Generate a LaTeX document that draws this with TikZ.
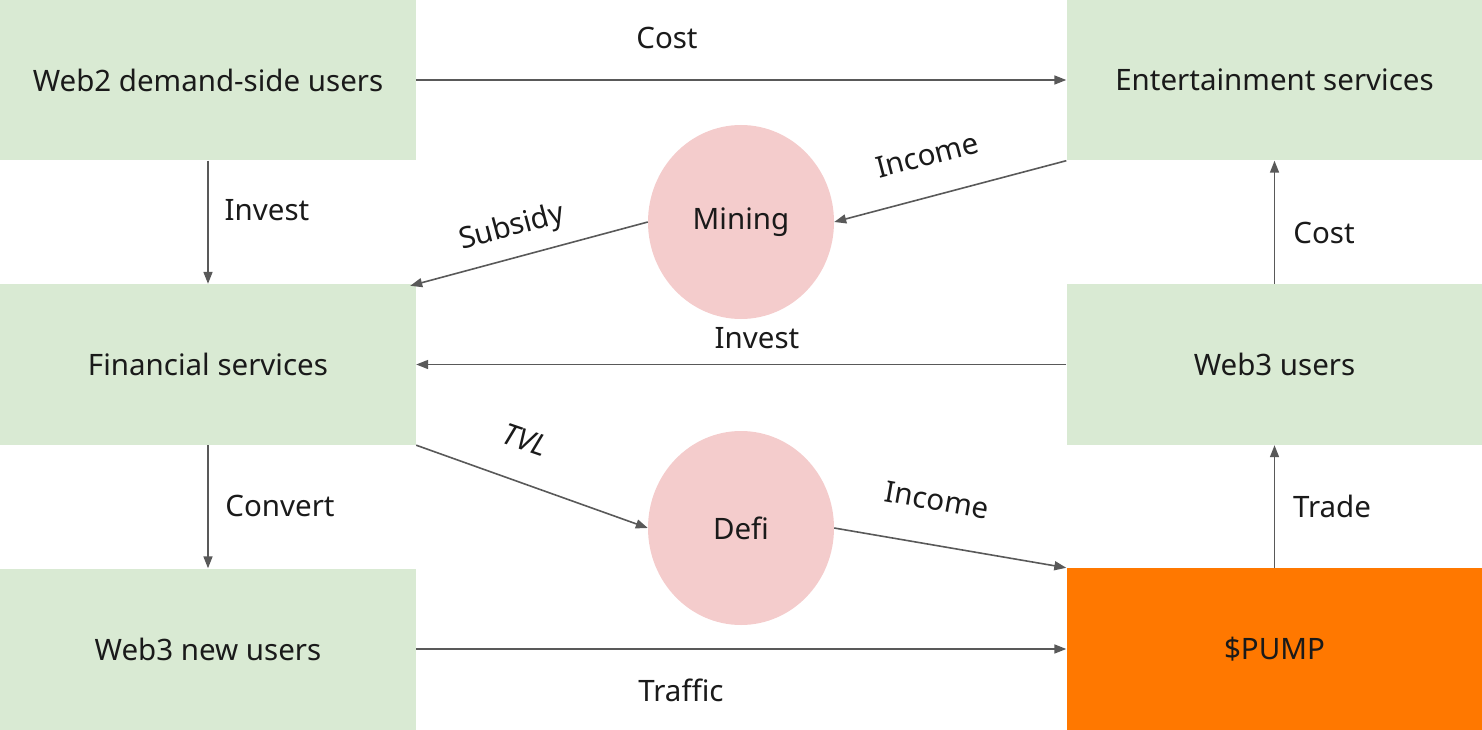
\documentclass[tikz,border=0pt]{standalone}
\usepackage{fontspec}
\setmainfont{Noto Sans}
\usetikzlibrary{shapes.geometric,arrows.meta}
\definecolor{boxgreen}{HTML}{D9EAD3}
\definecolor{circpink}{HTML}{F4CCCC}
\definecolor{pumporange}{HTML}{FF7800}
\definecolor{arrgray}{HTML}{595959}
\definecolor{txt}{HTML}{1A1A1A}
\begin{document}
\begin{tikzpicture}[x=1pt,y=-1pt,
  every node/.style={text=txt,font=\fontsize{29.5}{34}\selectfont},
  greenbox/.style={rectangle,fill=boxgreen,minimum width=416pt,minimum height=161pt,inner sep=0pt},
  pumpbox/.style={rectangle,fill=pumporange,minimum width=416pt,minimum height=162pt,inner sep=0pt},
  circ/.style={ellipse,fill=circpink,minimum width=186pt,minimum height=194pt,inner sep=0pt},
  flow/.style={draw=arrgray,line width=1.6pt,-{Triangle[length=12pt,width=9pt]}},
  lbl/.style={inner sep=0pt}]
\useasboundingbox (0,0) rectangle (1482,730);
\node[greenbox] (web2) at (208,80) {Web2 demand-side users};
\node[greenbox] (ent) at (1274.5,80) {Entertainment services};
\node[greenbox] (fin) at (208,364.5) {Financial services};
\node[greenbox] (w3u) at (1274.5,364.5) {Web3 users};
\node[greenbox] (w3n) at (208,649) {Web3 new users};
\node[pumpbox] (pump) at (1274.5,649) {\$PUMP};
\node[circ] (mining) at (741,222) {Mining};
\node[circ] (defi) at (741,528) {Defi};

\draw[flow] (web2.east) -- (ent.west);
\draw[flow] (web2.south) -- (fin.north);
\draw[flow] (ent.south west) -- (mining.east);
\draw[flow] (mining.west) -- ([xshift=-6pt,yshift=-2pt]fin.north east);
\draw[flow] (w3u.west) -- (fin.east);
\draw[flow] (w3u.north) -- (ent.south);
\draw[flow] (fin.south east) -- (defi.west);
\draw[flow] (defi.east) -- (pump.north west);
\draw[flow] (fin.south) -- (w3n.north);
\draw[flow] (w3n.east) -- (pump.west);
\draw[flow] (pump.north) -- (w3u.south);

\node[lbl] (l1) at (667,38) {Cost};
\node[lbl] (l2) at (267,210) {Invest};
\node[lbl,rotate=14.7] (l3) at (927,155) {Income};
\node[lbl,rotate=15] (l4) at (512,228) {Subsidy};
\node[lbl] (l5) at (757,338) {Invest};
\node[lbl] (l6) at (1324,233) {Cost};
\node[lbl,rotate=-19] (l7) at (525,440) {\itshape TVL};
\node[lbl,rotate=-10] (l8) at (937,500) {Income};
\node[lbl] (l9) at (280,506) {Convert};
\node[lbl] (l10) at (681,690) {Traffic};
\node[lbl] (l11) at (1332,506) {Trade};
\end{tikzpicture}
\end{document}
